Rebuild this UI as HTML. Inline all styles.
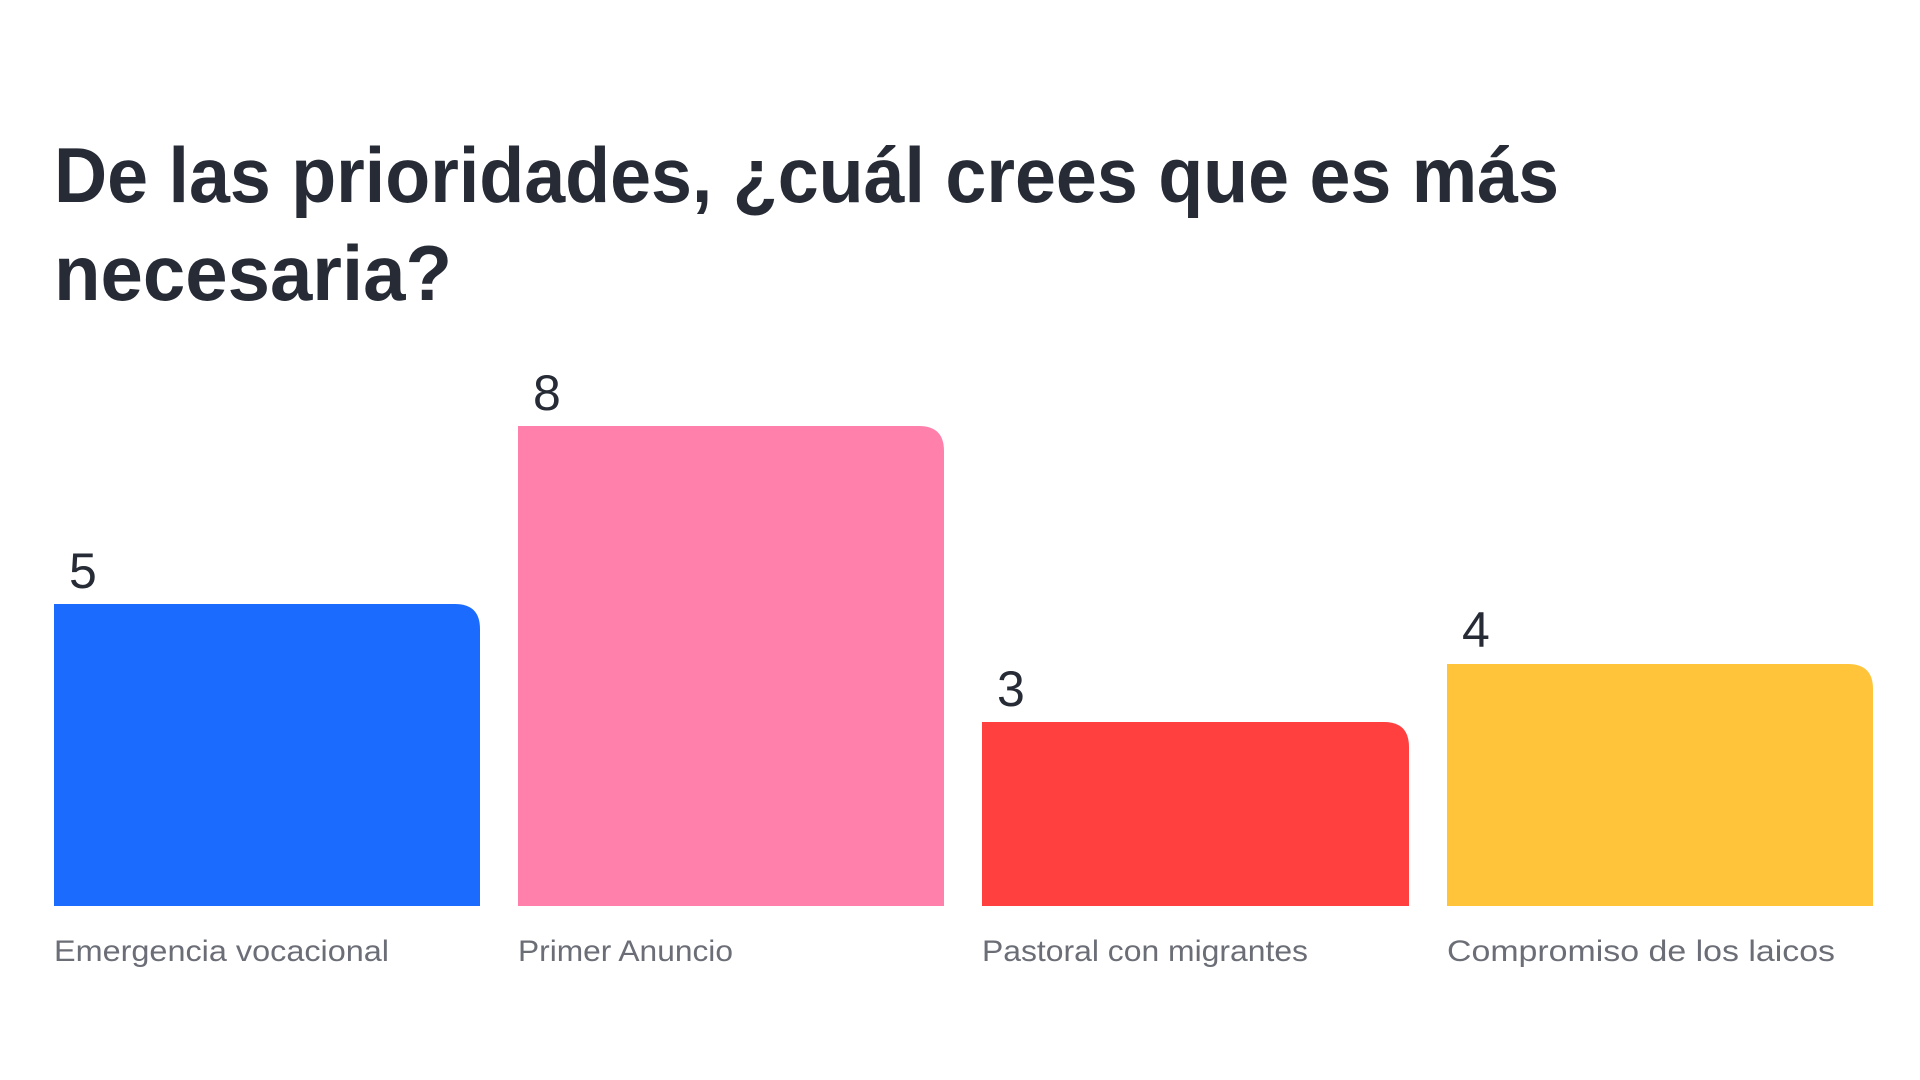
<!DOCTYPE html>
<html><head><meta charset="utf-8"><style>
html,body{margin:0;padding:0;background:#fff;width:1920px;height:1080px;overflow:hidden}
svg{display:block}
</style></head><body>
<svg width="1920" height="1080" viewBox="0 0 1920 1080" xmlns="http://www.w3.org/2000/svg">
<rect width="1920" height="1080" fill="#fff"/>
<g font-family="Liberation Sans, sans-serif" fill="#262b36">
<text x="54" y="202" font-size="78" font-weight="bold" textLength="1505" lengthAdjust="spacingAndGlyphs">De las prioridades, ¿cuál crees que es más</text>
<text x="54" y="300" font-size="78" font-weight="bold" textLength="398" lengthAdjust="spacingAndGlyphs">necesaria?</text>
</g>
<path d="M54 906 V604 H455 Q480 604 480 629 V906 Z" fill="#1c6bff"/>
<path d="M518 906 V426 H919 Q944 426 944 451 V906 Z" fill="#ff81ab"/>
<path d="M982 906 V722 H1384 Q1409 722 1409 747 V906 Z" fill="#ff403f"/>
<path d="M1447 906 V664 H1848 Q1873 664 1873 689 V906 Z" fill="#ffc43a"/>
<g font-family="Liberation Sans, sans-serif" fill="#262b36" font-size="50">
<text x="69" y="588">5</text>
<text x="533" y="410">8</text>
<text x="997" y="706">3</text>
<text x="1462" y="647">4</text>
</g>
<g font-family="Liberation Sans, sans-serif" fill="#6b6e76" font-size="30">
<text x="54" y="961" textLength="335" lengthAdjust="spacingAndGlyphs">Emergencia vocacional</text>
<text x="518" y="961" textLength="215" lengthAdjust="spacingAndGlyphs">Primer Anuncio</text>
<text x="982" y="961" textLength="326" lengthAdjust="spacingAndGlyphs">Pastoral con migrantes</text>
<text x="1447" y="961" textLength="388" lengthAdjust="spacingAndGlyphs">Compromiso de los laicos</text>
</g>
</svg>
</body></html>
